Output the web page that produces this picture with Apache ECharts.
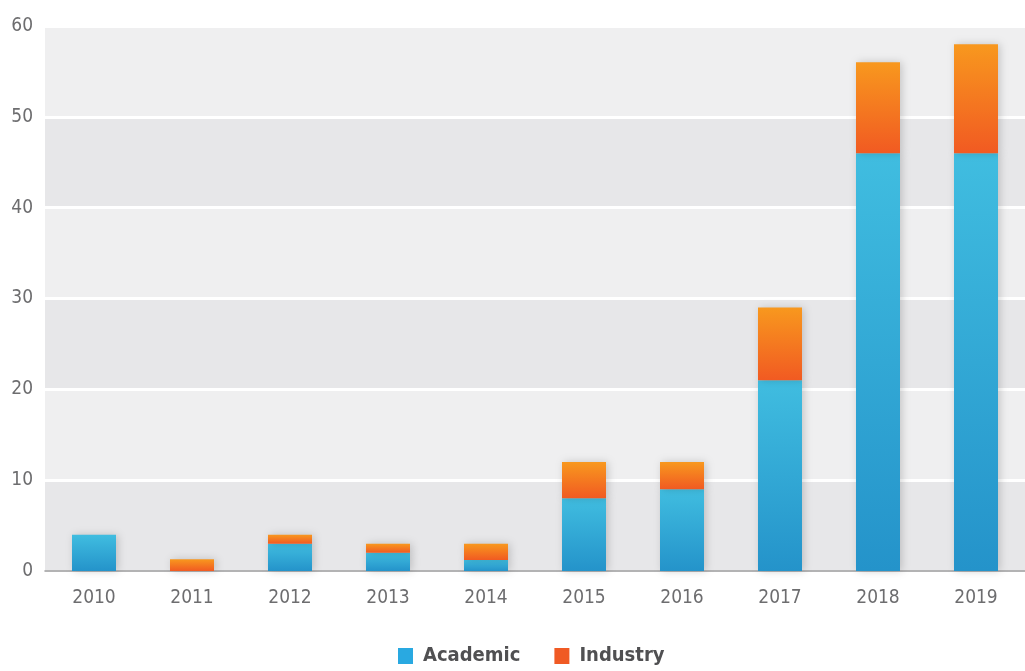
<!DOCTYPE html>
<html>
<head>
<meta charset="utf-8">
<script src="https://cdn.jsdelivr.net/npm/echarts@6/dist/echarts.min.js"></script>
<style>
  html, body { margin: 0; padding: 0; background: #fff; }
  #chart { width: 1025px; height: 671px; }
</style>
</head>
<body>
<div id="chart"></div>
<script>
const years = ['2010', '2011', '2012', '2013', '2014', '2015', '2016', '2017', '2018', '2019'];
const academic = [4, 0, 3, 2, 1.2, 8, 9, 21, 46, 46];
const industry = [0, 1.3, 1, 1, 1.8, 4, 3, 8, 10, 12];
const yTicks = [0, 10, 20, 30, 40, 50, 60];

const font = "'Liberation Sans Narrow', 'DejaVu Sans Condensed', 'Roboto', sans-serif";

const myChart = echarts.init(document.getElementById('chart'), null, { renderer: 'canvas' });

// gradients for the two stacks
const blueGrad = new echarts.graphic.LinearGradient(0, 0, 0, 1, [
  { offset: 0, color: '#40bde0' },
  { offset: 1, color: '#2493ca' }
]);
const orangeGrad = new echarts.graphic.LinearGradient(0, 0, 0, 1, [
  { offset: 0, color: '#f8981e' },
  { offset: 1, color: '#f15a22' }
]);

myChart.setOption({
  animation: false,
  backgroundColor: '#ffffff',
  grid: {
    top: 26,
    left: 45,
    right: 0,
    bottom: 100
  },
  legend: {
    data: [
      { name: 'Academic', itemStyle: { color: '#29a9e1' } },
      { name: 'Industry', itemStyle: { color: '#f05a24' } }
    ],
    bottom: 0,
    left: 393,
    icon: 'rect',
    itemWidth: 15,
    itemHeight: 16,
    itemGap: 34,
    textStyle: {
      fontFamily: font,
      fontWeight: 'bold',
      fontSize: 20,
      color: '#505052',
      padding: [0, 0, 0, 5]
    }
  },
  xAxis: {
    type: 'category',
    data: years,
    axisLine: { show: true, lineStyle: { color: '#9a9a9c', width: 1.5 } },
    axisTick: { show: false },
    axisLabel: {
      fontFamily: font,
      fontSize: 19,
      color: '#6d6d6f',
      margin: 18
    }
  },
  yAxis: {
    type: 'value',
    min: yTicks[0],
    max: yTicks[yTicks.length - 1],
    interval: 10,
    axisLine: { show: false },
    axisTick: { show: false },
    axisLabel: {
      fontFamily: font,
      fontSize: 19,
      color: '#6d6d6f',
      margin: 12
    },
    splitLine: {
      show: true,
      lineStyle: { color: '#ffffff', width: 3 }
    },
    splitArea: {
      show: true,
      areaStyle: { color: ['#e7e7e9', '#efeff0'] }
    }
  },
  series: [
    {
      name: 'Academic',
      type: 'bar',
      stack: 'total',
      barWidth: 44,
      data: academic,
      itemStyle: {
        color: blueGrad,
        shadowColor: 'rgba(0,0,0,0.18)',
        shadowBlur: 8,
        shadowOffsetX: 2
      }
    },
    {
      name: 'Industry',
      type: 'bar',
      stack: 'total',
      barWidth: 44,
      data: industry,
      itemStyle: {
        color: orangeGrad,
        shadowColor: 'rgba(0,0,0,0.18)',
        shadowBlur: 8,
        shadowOffsetX: 2
      }
    }
  ]
});
</script>
</body>
</html>
